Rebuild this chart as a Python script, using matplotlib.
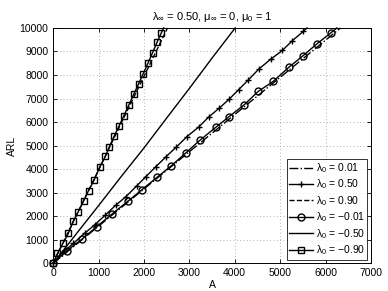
import matplotlib
matplotlib.use('Agg')
import matplotlib.pyplot as plt

plt.rcParams['font.family'] = ['Liberation Sans', 'DejaVu Sans']
plt.rcParams['mathtext.fontset'] = 'custom'
plt.rcParams['mathtext.rm'] = 'Liberation Sans'
plt.rcParams['mathtext.it'] = 'Liberation Sans'
plt.rcParams['mathtext.bf'] = 'Liberation Sans:bold'

# lambda_0 = 0.01 (dash-dot)
A_p001 = [0, 1000, 2000, 3000, 4000, 5000, 6000, 6330]
ARL_p001 = [0, 1580, 3160, 4740, 6320, 7900, 9480, 10000]

# lambda_0 = 0.50 (plus markers)
A_p050 = [0, 191, 446, 692, 912, 1150, 1385, 1604, 1840, 2044, 2264, 2490, 2710,
          2950, 3204, 3424, 3659, 3879, 4084, 4303, 4538, 4800, 5050, 5270, 5512, 5590]
ARL_p050 = [0, 425, 851, 1277, 1630, 2055, 2481, 2834, 3289, 3685, 4110, 4536, 4936,
            5387, 5787, 6213, 6595, 6978, 7374, 7800, 8268, 8681, 9047, 9460, 9855, 10000]

# lambda_0 = 0.90 (dashed)
A_p090 = [0, 500, 1000, 1500, 2000, 2520]
ARL_p090 = [0, 2000, 3960, 5960, 7940, 10000]

# lambda_0 = -0.01 (circles)
A_m001 = [0, 300, 631, 960, 1290, 1655, 1949, 2292, 2600, 2930, 3230, 3587, 3879,
          4209, 4516, 4846, 5198, 5505, 5807, 6114, 6250]
ARL_m001 = [0, 536, 1021, 1557, 2085, 2651, 3119, 3660, 4140, 4706, 5225, 5787, 6238,
            6736, 7302, 7728, 8340, 8821, 9319, 9787, 10000]

# lambda_0 = -0.50 (solid)
A_m050 = [0, 500, 1000, 1500, 2000, 2500, 3000, 3500, 4010]
ARL_m050 = [0, 1230, 2450, 3690, 4900, 6170, 7430, 8720, 10000]

# lambda_0 = -0.90 (squares)
A_m090 = [0, 95, 215, 335, 445, 555, 670, 780, 905, 1030, 1150, 1235, 1340, 1450,
          1560, 1670, 1775, 1880, 1985, 2090, 2190, 2290, 2380, 2435]
ARL_m090 = [0, 425, 850, 1280, 1800, 2200, 2650, 3090, 3545, 4110, 4540, 4940, 5390,
            5830, 6280, 6740, 7180, 7620, 8060, 8510, 8950, 9400, 9780, 10000]

xticks = [0, 1000, 2000, 3000, 4000, 5000, 6000, 7000]
yticks = [0, 1000, 2000, 3000, 4000, 5000, 6000, 7000, 8000, 9000, 10000]

fig = plt.figure(figsize=(3.88, 2.91), dpi=100)
ax = fig.add_axes([0.137, 0.095, 0.819, 0.809])

lw = 1.0
mfc = 'none'
ax.plot(A_p001, ARL_p001, '-.', color='k', lw=lw, clip_on=False,
        label=r'$\lambda_0$ = 0.01')
ax.plot(A_p050, ARL_p050, '-+', color='k', lw=lw, ms=5, mew=1.0,
        markevery=slice(0, -1), clip_on=False, label=r'$\lambda_0$ = 0.50')
ax.plot(A_p090, ARL_p090, '--', color='k', lw=lw, clip_on=False,
        label=r'$\lambda_0$ = 0.90')
ax.plot(A_m001, ARL_m001, '-o', color='k', lw=lw, ms=5, mew=1.0, mfc=mfc,
        markevery=slice(0, -1), clip_on=False, label=r'$\lambda_0$ = −0.01')
ax.plot(A_m050, ARL_m050, '-', color='k', lw=lw, clip_on=False,
        label=r'$\lambda_0$ = −0.50')
ax.plot(A_m090, ARL_m090, '-s', color='k', lw=lw, ms=4.5, mew=1.0, mfc=mfc,
        markevery=slice(0, -1), clip_on=False, label=r'$\lambda_0$ = −0.90')

ax.set_xlim(0, 7000)
ax.set_ylim(0, 10000)
ax.set_xticks(xticks)
ax.set_yticks(yticks)
ax.tick_params(direction='in', top=True, right=True, labelsize=7.5, length=3, width=0.6)
ax.grid(True, linestyle=(0, (1, 3)), color='0.6', lw=0.6)
for s in ax.spines.values():
    s.set_linewidth(0.7)

ax.set_xlabel('A', fontsize=7.5, labelpad=1)
ax.set_ylabel('ARL', fontsize=7.5, labelpad=2)
ax.set_title(r'$\lambda_\infty$ = 0.50, $\mu_\infty$ = 0, $\mu_0$ = 1', fontsize=8, pad=6)

leg = ax.legend(loc='lower right', fontsize=7.5, frameon=True, fancybox=False,
                edgecolor='k', borderpad=0.25, labelspacing=0.25, handlelength=2.3,
                handletextpad=0.2, borderaxespad=0.35)
leg.get_frame().set_linewidth(0.7)

fig.savefig('out.png', dpi=100)
